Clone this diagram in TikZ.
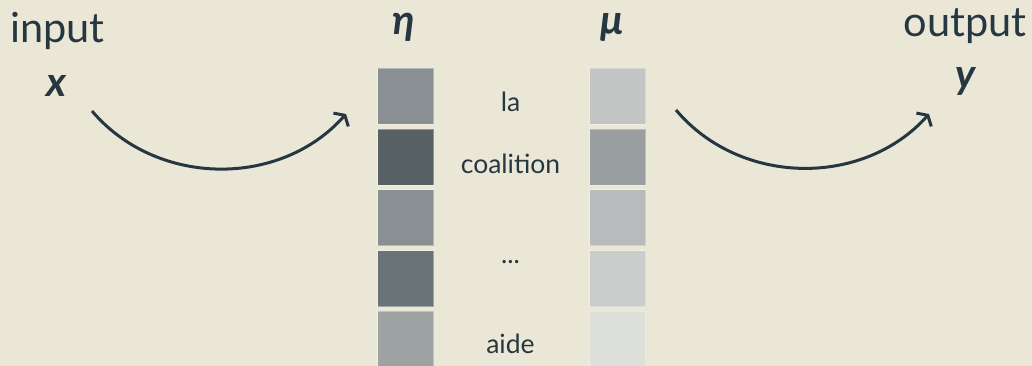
\documentclass[tikz,border=0pt]{standalone}
\usepackage{fontspec}
\setmainfont{Lato}
\usetikzlibrary{arrows.meta}
\definecolor{bg}{HTML}{EBE7D7}
\definecolor{ink}{HTML}{263741}
\definecolor{ea}{HTML}{899093}
\definecolor{eb}{HTML}{566065}
\definecolor{ec}{HTML}{899093}
\definecolor{ed}{HTML}{6A7478}
\definecolor{ee}{HTML}{9DA2A3}
\definecolor{ma}{HTML}{C2C5C4}
\definecolor{mb}{HTML}{999EA0}
\definecolor{mc}{HTML}{B8BBBB}
\definecolor{md}{HTML}{CBCDCC}
\definecolor{me}{HTML}{DDDFDB}
\tikzset{
  big/.style={text=ink, inner sep=0pt, anchor=base, font=\fontsize{41.5}{48}\selectfont},
  sym/.style={text=ink, inner sep=0pt, anchor=base, font=\fontsize{41}{48}\selectfont\bfseries\itshape},
  word/.style={text=ink, inner sep=0pt, anchor=base, font=\fontsize{26.5}{30}\selectfont},
  cell/.style={minimum width=56pt, minimum height=56pt, inner sep=0pt, anchor=north west, draw=white, draw opacity=0.35, line width=1pt},
  flow/.style={draw=ink, line width=3pt, -{Straight Barb[length=6pt,width=20pt]}}
}
\begin{document}
\begin{tikzpicture}[x=1pt,y=-1pt]
\useasboundingbox[fill=bg] (0,0) rectangle (1032,366);
\node[big] (input) at (57.5,43) {input};
\node[sym] (x) at (56,97) {x};
\node[big] (output) at (965,37) {output};
\node[sym] (y) at (966,89) {y};
\node[sym] (eta) at (404,35) {η};
\node[sym] (mu) at (612,35) {μ};
\foreach \n/\c [count=\i from 0] in {1/ea,2/eb,3/ec,4/ed,5/ee}{
  \node[cell, fill=\c] (e\n) at (377,68+60.7*\i) {};
}
\foreach \n/\c [count=\i from 0] in {1/ma,2/mb,3/mc,4/md,5/me}{
  \node[cell, fill=\c] (m\n) at (589,68+60.7*\i) {};
}
\node[word] (w1) at (510.5,112) {la};
\node[word] (w2) at (510.5,173) {coalition};
\node[word] (w3) at (510.5,263) {...};
\node[word] (w4) at (510.5,353) {aide};
\coordinate (a1s) at (92,111);
\coordinate (a1e) at (346,114);
\coordinate (a2s) at (676,110);
\coordinate (a2e) at (929,114);
\draw[flow] (a1s) to[bend right=49] (a1e);
\draw[flow] (a2s) to[bend right=49] (a2e);
\end{tikzpicture}
\end{document}
